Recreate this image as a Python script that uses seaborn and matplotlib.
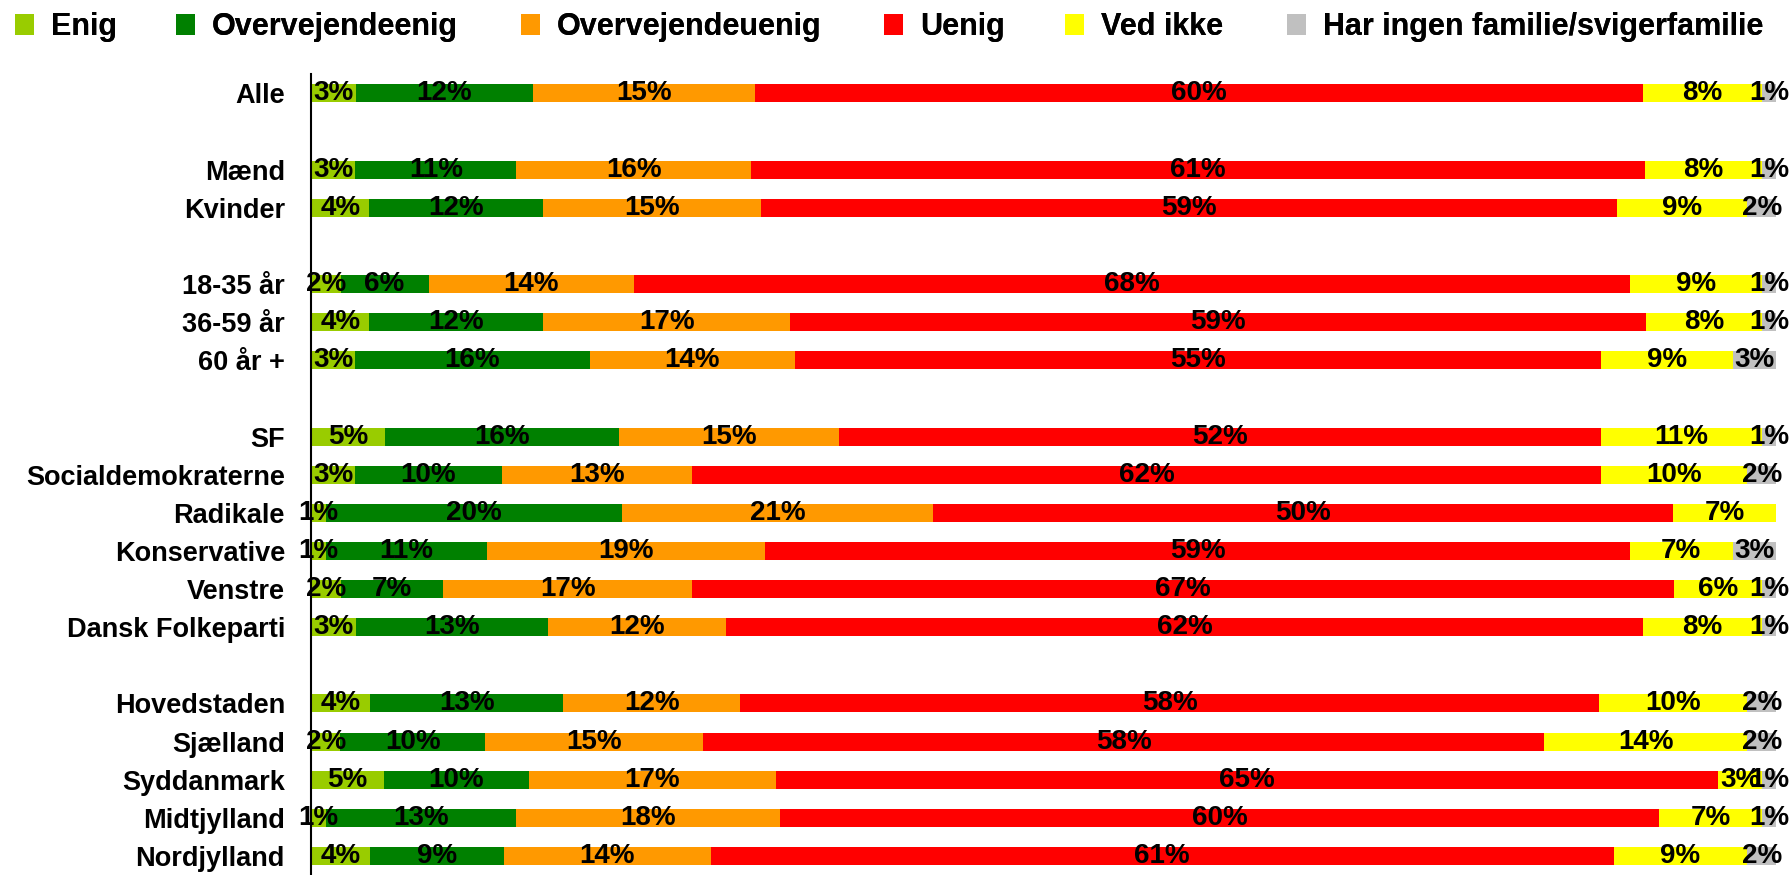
import numpy as np
import pandas as pd
import seaborn as sns
import matplotlib.pyplot as plt
from matplotlib.patches import Patch

# rows top to bottom; None marks an empty spacer row
rows = ["Alle", None, "Mænd", "Kvinder", None, "18-35 år", "36-59 år", "60 år +", None,
        "SF", "Socialdemokraterne", "Radikale", "Konservative", "Venstre", "Dansk Folkeparti", None,
        "Hovedstaden", "Sjælland", "Syddanmark", "Midtjylland", "Nordjylland"]

series = ["Enig", "Overvejendeenig", "Overvejendeuenig", "Uenig", "Ved ikke",
          "Har ingen familie/svigerfamilie"]
colors = ["#99CC00", "#008000", "#FF9900", "#FF0000", "#FFFF00", "#C0C0C0"]

# values per real row (same order as rows without spacers)
enig = [3, 3, 4, 2, 4, 3, 5, 3, 1, 1, 2, 3, 4, 2, 5, 1, 4]
overv_enig = [12, 11, 12, 6, 12, 16, 16, 10, 20, 11, 7, 13, 13, 10, 10, 13, 9]
overv_uenig = [15, 16, 15, 14, 17, 14, 15, 13, 21, 19, 17, 12, 12, 15, 17, 18, 14]
uenig = [60, 61, 59, 68, 59, 55, 52, 62, 50, 59, 67, 62, 58, 58, 65, 60, 61]
ved_ikke = [8, 8, 9, 9, 8, 9, 11, 10, 7, 7, 6, 8, 10, 14, 3, 7, 9]
ingen = [1, 1, 2, 1, 1, 3, 1, 2, 0, 3, 1, 1, 2, 2, 1, 1, 2]

vals = np.array([enig, overv_enig, overv_uenig, uenig, ved_ikke, ingen], dtype=float).T
shares = vals / vals.sum(axis=1, keepdims=True) * 100

# category keys (spacers need unique names)
keys, table = [], []
j = 0
for i, r in enumerate(rows):
    key = r if r is not None else " " * (i + 1)
    keys.append(key)
    if r is None:
        table.append([key] + [0.0] * 6)
    else:
        table.append([key] + list(np.cumsum(shares[j])))
        j += 1
df = pd.DataFrame(table, columns=["cat"] + [f"cum{k}" for k in range(6)])

sns.set_style("white")
plt.rcParams["font.family"] = ["Liberation Sans", "DejaVu Sans"]
plt.rcParams["font.weight"] = "bold"
plt.rcParams["text.color"] = "black"
plt.rcParams["ytick.color"] = "black"

fig = plt.figure(figsize=(17.89, 8.75), dpi=100)
ax = fig.add_axes([0.174, 0.0, 0.819, 0.915])

for k in range(5, -1, -1):
    sns.barplot(data=df, y="cat", x=f"cum{k}", order=keys, color=colors[k],
                width=0.47, saturation=1, linewidth=0, errorbar=None,
                orient="h", ax=ax)

# segment labels
j = 0
for i, r in enumerate(rows):
    if r is None:
        continue
    left = 0
    for k in range(6):
        w = shares[j, k]
        if vals[j, k] > 0:
            ax.text(left + w / 2, i, f"{int(vals[j, k])}%", ha="center", va="center",
                    fontsize=20, fontweight="bold", color="black")
        left += w
    j += 1

ax.set_xlim(0, 100)
ax.set_ylim(len(rows) - 0.5, -0.5)
ax.set_xlabel("")
ax.set_ylabel("")
ax.xaxis.set_visible(False)
for s in ["top", "right", "bottom"]:
    ax.spines[s].set_visible(False)
ax.spines["left"].set_color("black")
ax.spines["left"].set_linewidth(1.5)

ax.set_yticks(range(len(rows)))
ax.set_yticklabels([r if r is not None else "" for r in rows], fontsize=19.5,
                   fontweight="bold", color="black")
ax.tick_params(axis="y", which="major", length=0, pad=19)
ax.set_yticks(np.arange(-0.5, len(rows), 1), minor=True)
ax.tick_params(axis="y", which="minor", length=8, width=1.5, direction="out", color="black")

# legend entries, one per series, placed like the original
legend_x = [15, 176, 521, 884, 1065, 1287]
for k in range(6):
    lg = fig.legend([Patch(facecolor=colors[k], edgecolor="none")], [series[k]],
                    loc="upper left", bbox_to_anchor=(legend_x[k] / 1789, 1 - 12 / 875),
                    frameon=False, borderpad=0, borderaxespad=0,
                    handlelength=0.62, handleheight=0.7, handletextpad=0.56,
                    prop={"size": 22, "weight": "bold"})
    fig.add_artist(lg)

fig.savefig("out.png", dpi=100)
